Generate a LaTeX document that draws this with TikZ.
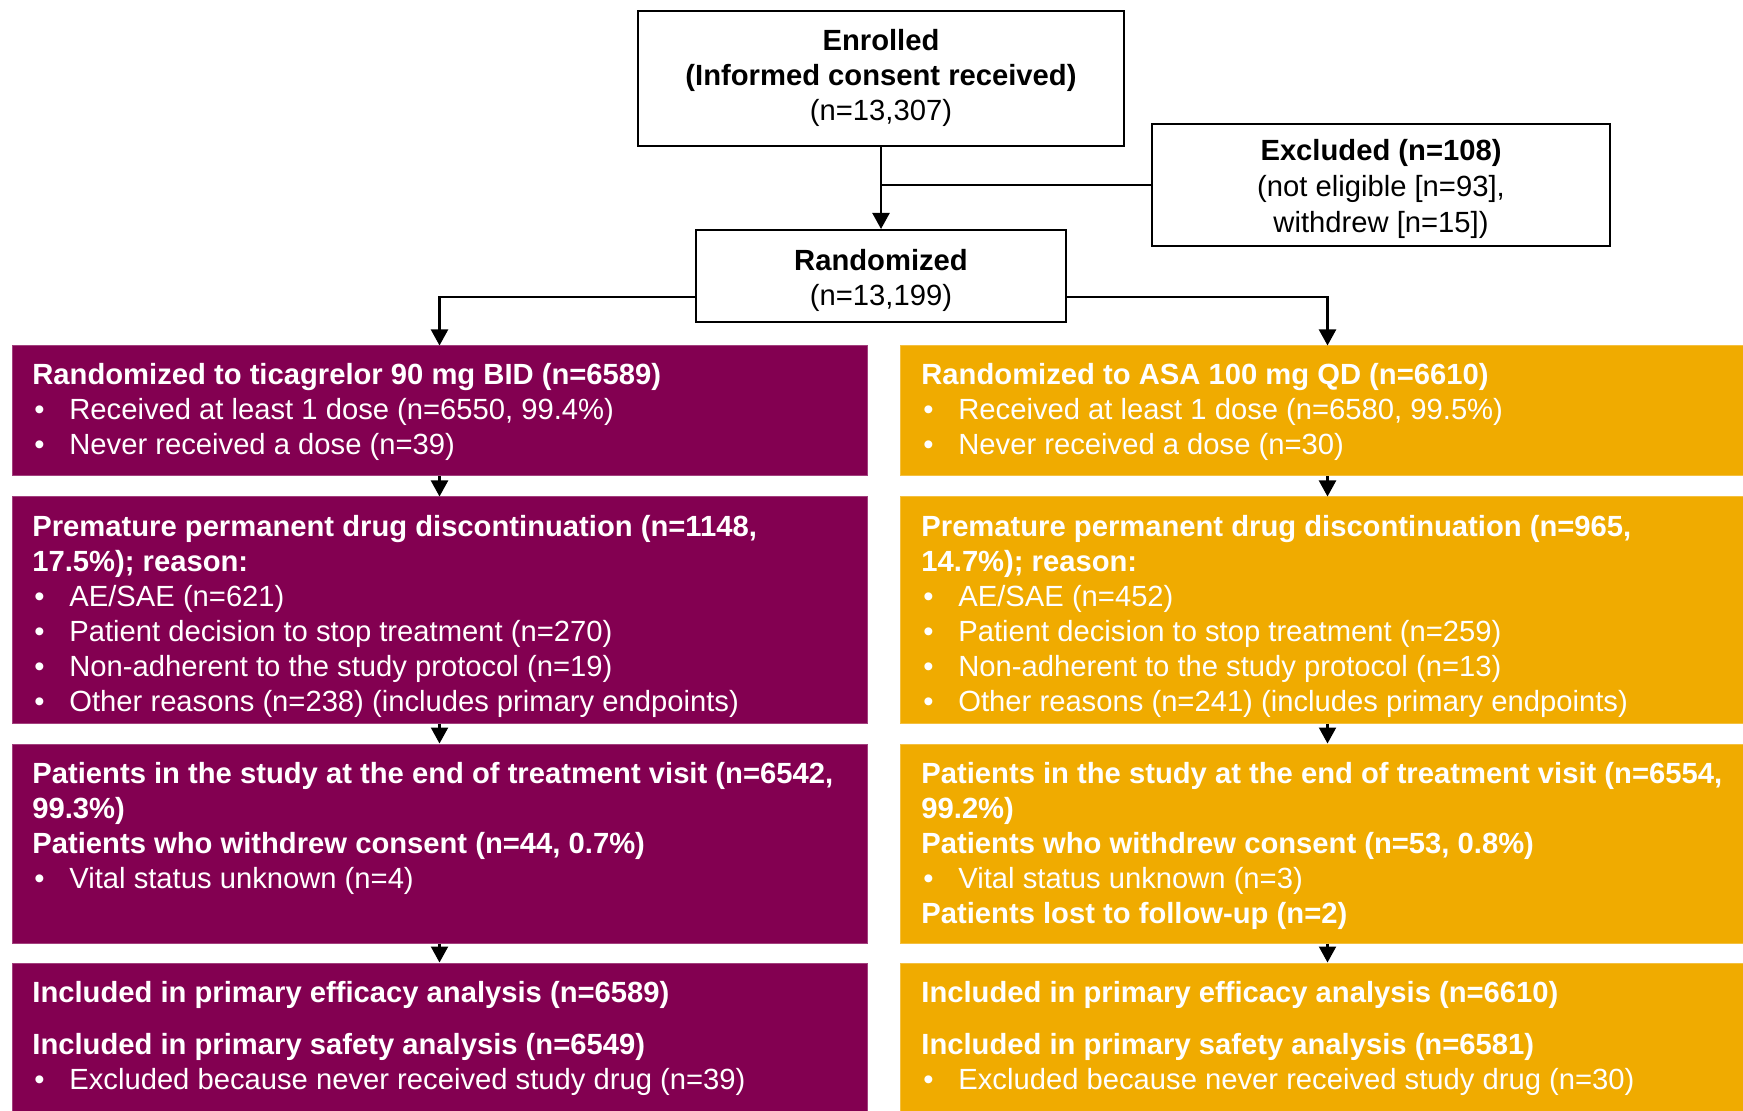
\documentclass[tikz,border=0pt]{standalone}
\usepackage{fontspec}
\setmainfont{Liberation Sans}
\usetikzlibrary{arrows.meta}
\definecolor{mulberry}{HTML}{830051}
\definecolor{azgold}{HTML}{F0AB00}
\newcommand{\itembul}{\makebox[18.5pt][l]{\hspace{1pt}•}}
\begin{document}
\begin{tikzpicture}[x=0.5pt,y=-0.5pt,
  wbox/.style={draw=black, line width=1pt, fill=white, inner sep=0pt},
  pbox/.style={fill=mulberry, draw=mulberry!75!white, line width=0.5pt, inner sep=0pt, minimum width=427.5pt},
  gbox/.style={fill=azgold, draw=azgold!75!white, line width=0.5pt, inner sep=0pt, minimum width=427.5pt},
  txt/.style={inner sep=0pt, anchor=base west, font=\fontsize{14.6}{17.5}\selectfont},
  ctxt/.style={inner sep=0pt, anchor=base, font=\fontsize{14.6}{17.5}\selectfont},
  wtxt/.style={txt, text=white},
  line/.style={draw=black, line width=1.1pt},
  arr/.style={line, -{Triangle[length=8pt,width=8.5pt]}},
]
\useasboundingbox (0,0) rectangle (1743,1111);
\clip (0,0) rectangle (1743,1111);

% top boxes
\node[wbox, minimum width=243pt, minimum height=67.5pt] (enr) at (881,78.5) {};
\node[wbox, minimum width=229pt, minimum height=61pt] (exc) at (1381,185) {};
\node[wbox, minimum width=185pt, minimum height=46pt] (rand) at (881,276) {};

\node[ctxt] (enrt) at (881,50.5) {\parbox[t]{240pt}{\centering\textbf{Enrolled}\\\textbf{(Informed consent received)}\\(n=13,307)}};
\node[ctxt, font=\fontsize{14.6}{18}\selectfont] (exct) at (1381,161) {\parbox[t]{226pt}{\centering\textbf{Excluded (n=108)}\\(not eligible [n=93],\\withdrew [n=15])}};
\node[ctxt] (randt) at (881,270.5) {\parbox[t]{180pt}{\centering\textbf{Randomized}\\(n=13,199)}};

% left column
\node[pbox, minimum height=65pt] (L1) at (439.5,411) {};
\node[pbox, minimum height=113pt] (L2) at (439.5,610) {};
\node[pbox, minimum height=99.5pt] (L3) at (439.5,843.5) {};
\node[pbox, minimum height=81pt] (L4) at (439.5,1044) {};

% right column
\node[gbox, minimum height=65pt] (R1) at (1327.5,411) {};
\node[gbox, minimum height=113pt] (R2) at (1327.5,610) {};
\node[gbox, minimum height=99.5pt] (R3) at (1327.5,843.5) {};
\node[gbox, minimum height=81pt] (R4) at (1327.5,1044) {};

% left texts
\node[wtxt] (L1t) at (32,385) {\parbox[t]{408pt}{\raggedright
\textbf{Randomized to ticagrelor 90 mg BID (n=6589)}\\
\itembul Received at least 1 dose (n=6550, 99.4\%)\\
\itembul Never received a dose (n=39)}};
\node[wtxt] (L2t) at (32,536.5) {\parbox[t]{408pt}{\raggedright
\textbf{Premature permanent drug discontinuation (n=1148,}\\
\textbf{17.5\%); reason:}\\
\itembul AE/SAE (n=621)\\
\itembul Patient decision to stop treatment (n=270)\\
\itembul Non-adherent to the study protocol (n=19)\\
\itembul Other reasons (n=238) (includes primary endpoints)}};
\node[wtxt] (L3t) at (32,783) {\parbox[t]{408pt}{\raggedright
\textbf{Patients in the study at the end of treatment visit (n=6542,}\\
\textbf{99.3\%)}\\
\textbf{Patients who withdrew consent (n=44, 0.7\%)}\\
\itembul Vital status unknown (n=4)}};
\node[wtxt] (L4t) at (32,1002.5) {\parbox[t]{408pt}{\raggedright
\textbf{Included in primary efficacy analysis (n=6589)}\\[8.5pt]
\textbf{Included in primary safety analysis (n=6549)}\\
\itembul Excluded because never received study drug (n=39)}};

% right texts
\node[wtxt] (R1t) at (921,385) {\parbox[t]{408pt}{\raggedright
\textbf{Randomized to ASA 100 mg QD (n=6610)}\\
\itembul Received at least 1 dose (n=6580, 99.5\%)\\
\itembul Never received a dose (n=30)}};
\node[wtxt] (R2t) at (921,536.5) {\parbox[t]{408pt}{\raggedright
\textbf{Premature permanent drug discontinuation (n=965,}\\
\textbf{14.7\%); reason:}\\
\itembul AE/SAE (n=452)\\
\itembul Patient decision to stop treatment (n=259)\\
\itembul Non-adherent to the study protocol (n=13)\\
\itembul Other reasons (n=241) (includes primary endpoints)}};
\node[wtxt] (R3t) at (921,783) {\parbox[t]{408pt}{\raggedright
\textbf{Patients in the study at the end of treatment visit (n=6554,}\\
\textbf{99.2\%)}\\
\textbf{Patients who withdrew consent (n=53, 0.8\%)}\\
\itembul Vital status unknown (n=3)\\
\textbf{Patients lost to follow-up (n=2)}}};
\node[wtxt] (R4t) at (921,1002.5) {\parbox[t]{408pt}{\raggedright
\textbf{Included in primary efficacy analysis (n=6610)}\\[8.5pt]
\textbf{Included in primary safety analysis (n=6581)}\\
\itembul Excluded because never received study drug (n=30)}};

% connectors
\draw[arr] (enr.south) -- (rand.north);
\draw[line] (exc.west) -- (exc.west -| enr.south);
\draw[arr] ([yshift=-10.5pt]rand.west) -| (L1.north);
\draw[arr] ([yshift=-10.5pt]rand.east) -| (R1.north);
\draw[arr] (L1.south) -- (L2.north);
\draw[arr] (L2.south) -- (L3.north);
\draw[arr] (L3.south) -- (L4.north);
\draw[arr] (R1.south) -- (R2.north);
\draw[arr] (R2.south) -- (R3.north);
\draw[arr] (R3.south) -- (R4.north);
\end{tikzpicture}
\end{document}
